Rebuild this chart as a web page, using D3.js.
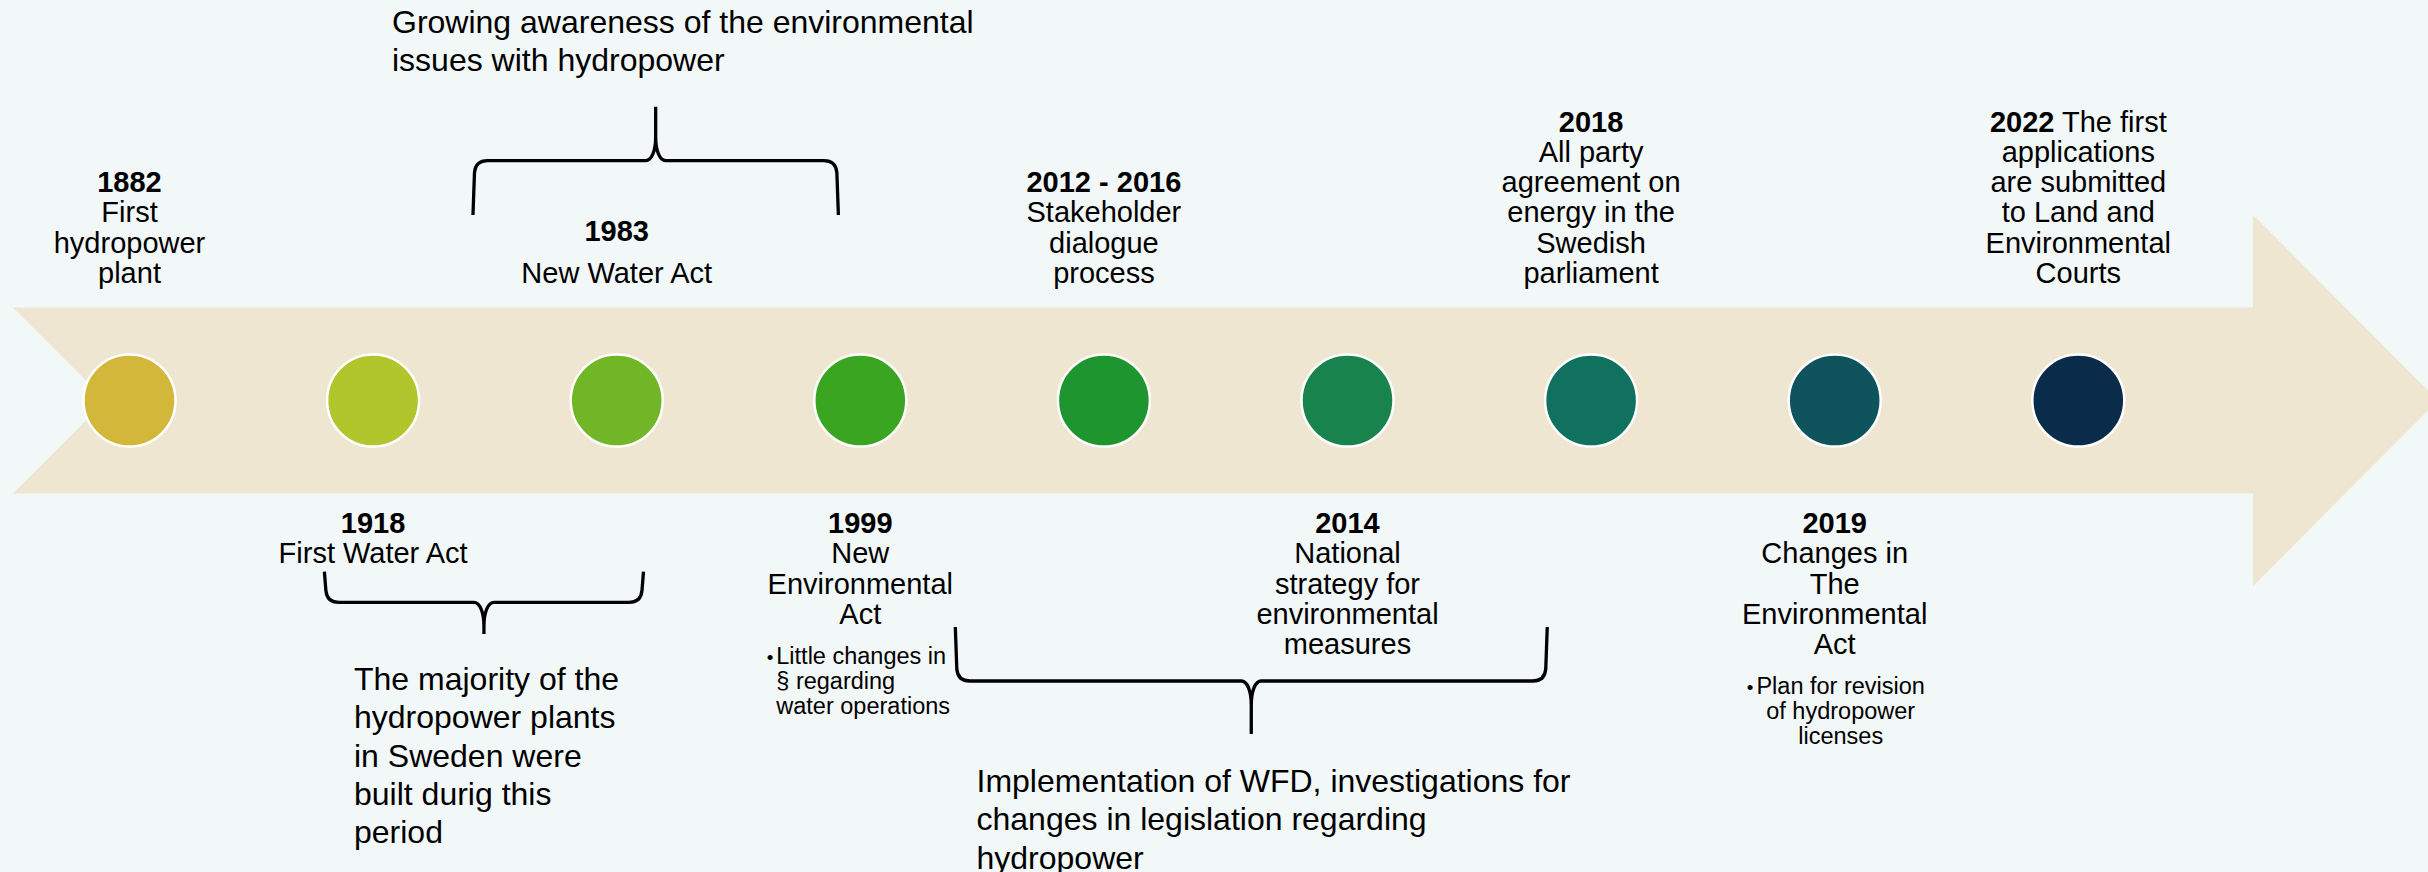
<!DOCTYPE html>
<html>
<head>
<meta charset="utf-8">
<script src="https://cdn.jsdelivr.net/npm/d3@7"></script>
<style>
  body { margin: 0; background: #f2f7f7; }
  svg { display: block; }
  text { font-family: "Liberation Sans", Arial, sans-serif; fill: #000; }
</style>
</head>
<body>
<div id="chart"></div>
<script>
// timeline events, left to right
var years = ["1882", "1918", "1983", "1999", "2012 - 2016", "2014", "2018", "2019", "2022"];
var sides = ["top", "bottom", "top", "bottom", "top", "bottom", "top", "bottom", "top"];
var descriptions = [
    ["First", "hydropower", "plant"],
    ["First Water Act"],
    ["New Water Act"],
    ["New", "Environmental", "Act"],
    ["Stakeholder", "dialogue", "process"],
    ["National", "strategy for", "environmental", "measures"],
    ["All party", "agreement on", "energy in the", "Swedish", "parliament"],
    ["Changes in", "The", "Environmental", "Act"],
    ["The first", "applications", "are submitted", "to Land and", "Environmental", "Courts"]
];
// year written on the same line as the first description line
var yearInline = [false, false, false, false, false, false, false, false, true];
var bullets = [
    null, null, null,
    ["Little changes in", "§ regarding", "water operations"],
    null, null, null,
    ["Plan for revision", "of hydropower", "licenses"],
    null
];
var circleColors = ["#d2b73a", "#b1c62c", "#71b626", "#3aa521", "#1f9530", "#18834c", "#11715f", "#0f535d", "#0b2b4a"];

// periods marked with braces
var periodNotes = [
    ["Growing awareness of the environmental", "issues with hydropower"],
    ["The majority of the", "hydropower plants", "in Sweden were", "built durig this", "period"],
    ["Implementation of WFD, investigations for", "changes in legislation regarding", "hydropower"]
];
// brace span in timeline steps (event index units)
var periodSpans = [[1.41, 2.91], [0.80, 2.11], [3.39, 5.82]];

var width = 2428, height = 872;
var midY = 400.5;

var svg = d3.select("#chart").append("svg")
    .attr("width", width)
    .attr("height", height);

svg.append("rect")
    .attr("width", width)
    .attr("height", height)
    .attr("fill", "#f2f7f7");

var x = d3.scaleLinear().domain([0, years.length - 1]).range([129.5, 2078.3]);

// big arrow band
var band = { left: 13, top: 307.5, bottom: 493.5, headX: 2253, headTop: 215, headBottom: 586, tip: 2438 };
var notch = band.left + (band.bottom - band.top) / 2;
var arrow = d3.path();
arrow.moveTo(band.left, band.top);
arrow.lineTo(band.headX, band.top);
arrow.lineTo(band.headX, band.headTop);
arrow.lineTo(band.tip, midY);
arrow.lineTo(band.headX, band.headBottom);
arrow.lineTo(band.headX, band.bottom);
arrow.lineTo(band.left, band.bottom);
arrow.lineTo(notch, midY);
arrow.closePath();
svg.append("path")
    .attr("d", arrow.toString())
    .attr("fill", "#eee6d0");

// milestones
svg.selectAll("circle.milestone")
    .data(years)
    .enter().append("circle")
    .attr("class", "milestone")
    .attr("cx", function (d, i) { return x(i); })
    .attr("cy", midY)
    .attr("r", 46)
    .attr("fill", function (d, i) { return circleColors[i]; })
    .attr("stroke", "#fff")
    .attr("stroke-width", 2.5);

// event labels
var lineH = 30.3;
var topBase = 283, bottomBase = 533;
var yearGap = { "1983": 42 };

years.forEach(function (year, i) {
    var cx = x(i);
    var lines = descriptions[i];
    var g = svg.append("g").attr("class", "label");
    var gap = yearGap[year] || lineH;
    var yearY, firstY;
    if (sides[i] === "top") {
        var lastY = topBase;
        var n = yearInline[i] ? lines.length - 1 : lines.length;
        firstY = lastY - (lines.length - 1) * lineH;
        yearY = yearInline[i] ? firstY : firstY - gap;
    } else {
        yearY = bottomBase;
        firstY = yearInline[i] ? yearY : yearY + gap;
    }

    if (yearInline[i]) {
        var t = g.append("text")
            .attr("x", cx).attr("y", yearY)
            .attr("text-anchor", "middle")
            .style("font-size", "29px");
        t.append("tspan").style("font-weight", "bold").text(year);
        t.append("tspan").text(" " + lines[0]);
        lines.slice(1).forEach(function (l, j) {
            g.append("text")
                .attr("x", cx).attr("y", firstY + (j + 1) * lineH)
                .attr("text-anchor", "middle")
                .style("font-size", "29px")
                .text(l);
        });
    } else {
        g.append("text")
            .attr("x", cx).attr("y", yearY)
            .attr("text-anchor", "middle")
            .style("font-size", "29px")
            .style("font-weight", "bold")
            .text(year);
        lines.forEach(function (l, j) {
            g.append("text")
                .attr("x", cx).attr("y", firstY + j * lineH)
                .attr("text-anchor", "middle")
                .style("font-size", "29px")
                .text(l);
        });
    }

    // bullet sub-points
    if (bullets[i]) {
        var by = firstY + (lines.length - 1) * lineH + 40;
        var bh = 25;
        var centered = i === 7;
        var bx = centered ? cx + 6 : cx - 84;
        var firstText;
        bullets[i].forEach(function (b, j) {
            var bt = g.append("text")
                .attr("x", bx).attr("y", by + j * bh)
                .attr("text-anchor", centered ? "middle" : "start")
                .style("font-size", "23.5px")
                .text(b);
            if (j === 0) firstText = bt;
        });
        var left = centered ? bx - firstText.node().getComputedTextLength() / 2 : bx;
        g.append("text")
            .attr("x", left - 3).attr("y", by)
            .attr("text-anchor", "end")
            .style("font-size", "19px")
            .text("•");
    }
});

// braces
function bracePath(x0, x1, yEnd, yBar, yTip) {
    var xm = (x0 + x1) / 2;
    var s = yTip > yBar ? 1 : -1;
    var r = Math.min(12, Math.abs(yEnd - yBar) * 0.4);
    var p = d3.path();
    // left half
    p.moveTo(x0, yEnd);
    p.lineTo(x0 + 1.5, yBar - s * r);
    p.quadraticCurveTo(x0 + 2.5, yBar, x0 + 2.5 + r, yBar);
    p.lineTo(xm - 10, yBar);
    p.bezierCurveTo(xm - 4, yBar, xm, yBar + s * 10, xm, yBar + s * 24);
    p.lineTo(xm, yTip);
    // right half
    p.moveTo(x1, yEnd);
    p.lineTo(x1 - 1.5, yBar - s * r);
    p.quadraticCurveTo(x1 - 2.5, yBar, x1 - 2.5 - r, yBar);
    p.lineTo(xm + 10, yBar);
    p.bezierCurveTo(xm + 4, yBar, xm, yBar + s * 10, xm, yBar + s * 24);
    p.lineTo(xm, yTip);
    return p.toString();
}

var braceY = [[215, 160.7, 106.7], [571.7, 602.3, 634], [627, 681, 734]];
svg.selectAll("path.brace")
    .data(periodSpans)
    .enter().append("path")
    .attr("class", "brace")
    .attr("d", function (d, i) {
        return bracePath(x(d[0]), x(d[1]), braceY[i][0], braceY[i][1], braceY[i][2]);
    })
    .attr("fill", "none")
    .attr("stroke", "#000")
    .attr("stroke-width", 3.3)
    .attr("stroke-linejoin", "round");

// period notes
var notePos = [[392, 33], [354, 690], [976.5, 792]];
var noteH = 38.3;
periodNotes.forEach(function (lines, i) {
    var g = svg.append("g").attr("class", "note");
    lines.forEach(function (l, j) {
        g.append("text")
            .attr("x", notePos[i][0])
            .attr("y", notePos[i][1] + j * noteH)
            .style("font-size", "32px")
            .text(l);
    });
});
</script>
</body>
</html>
